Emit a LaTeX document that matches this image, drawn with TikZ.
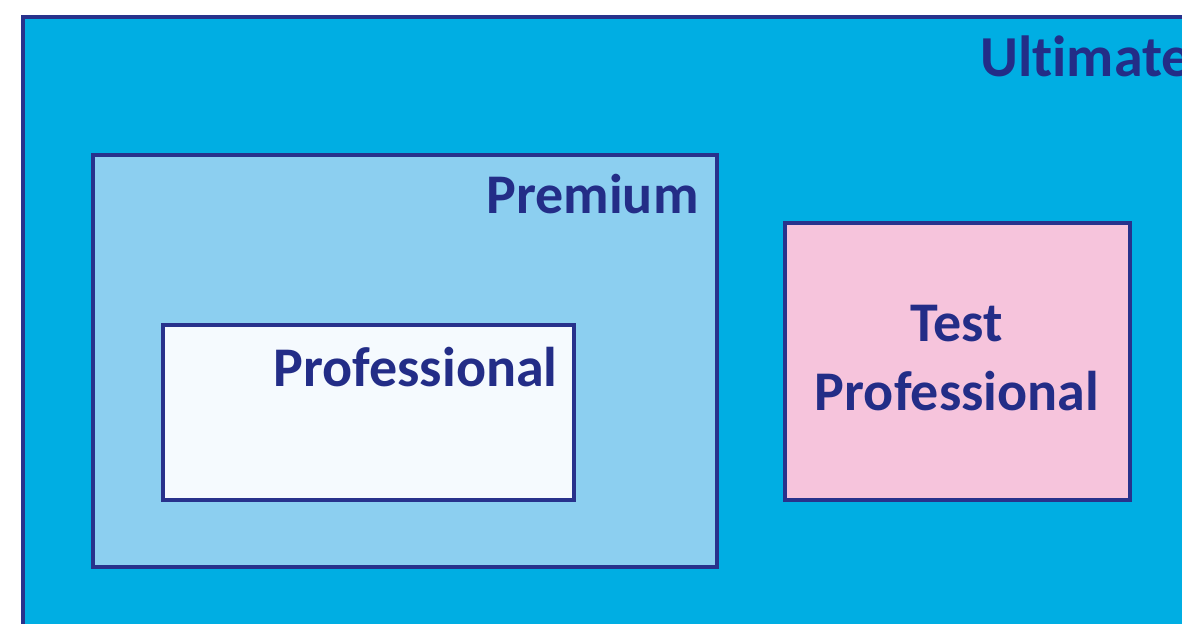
\documentclass[tikz,border=0pt]{standalone}
\usepackage{fontspec}
\setmainfont[Ligatures=NoCommon]{Carlito}
\usetikzlibrary{positioning}
\definecolor{ultimatecyan}{RGB}{0,174,227}
\definecolor{premiumblue}{RGB}{140,207,240}
\definecolor{profwhite}{RGB}{245,250,254}
\definecolor{testpink}{RGB}{246,196,220}
\definecolor{edgeblue}{RGB}{40,50,140}
\definecolor{labelblue}{RGB}{35,45,135}
\tikzset{
    %Define style for edition boxes
    tier/.style={
           rectangle,
           draw=edgeblue,
           line width=1.6pt,
           inner sep=0pt,
           outer sep=0pt,
           anchor=north west},
    % Define style for edition names
    tierlabel/.style={
           text=labelblue,
           inner sep=0pt,
           font=\fontsize{28pt}{34.5pt}\selectfont\bfseries}
}
\begin{document}
\begin{tikzpicture}[x=0.5pt, y=-0.5pt]
  \useasboundingbox (0,0) rectangle (1182,624);
  \clip (0,0) rectangle (1182,624);
  % boxes
  \node[tier, fill=ultimatecyan, minimum width=600pt, minimum height=320pt] (ultimate) at (23,17) {};
  \node[tier, fill=premiumblue, minimum width=312pt, minimum height=206pt] (premium) at (93,155) {};
  \node[tier, fill=profwhite, minimum width=205.5pt, minimum height=87.5pt] (professional) at (163,325) {};
  \node[tier, fill=testpink, minimum width=172.5pt, minimum height=138.5pt] (testpro) at (785,223) {};
  % names
  \node[tierlabel, anchor=base west, font=\fontsize{29pt}{34.5pt}\selectfont\bfseries] (ultimatetext) at (980,77) {Ultimate};
  \node[tierlabel, anchor=base east] (premiumtext) at (699,214) {Premium};
  \node[tierlabel, anchor=base east] (professionaltext) at (558,387) {Professional};
  \node[tierlabel, anchor=base] (testtext) at (957,342) {Test};
  \node[tierlabel, anchor=base] (testprotext) at (957,411) {Professional};
\end{tikzpicture}
\end{document}
